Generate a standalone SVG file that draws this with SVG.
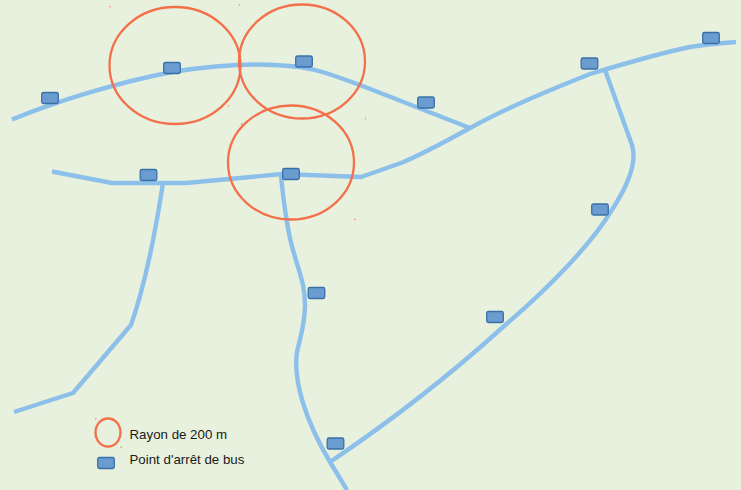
<svg xmlns="http://www.w3.org/2000/svg" width="741" height="490" viewBox="0 0 741 490">
<style>
.road{fill:none;stroke:#8cc0ea;stroke-width:4.400;stroke-linejoin:round}
.zone{fill:none;stroke:#f4704a;stroke-width:2.300}
.stop{fill:#6a9cd0;stroke:#3a70a8;stroke-width:1.300}
.speck{fill:#f59a7c}
text{font-family:"Liberation Sans",Arial,sans-serif;font-size:13.300px;fill:#1a1a1a}
</style>
<defs><rect id="s" x="-8.300" y="-5.500" width="16.600" height="11" rx="1.800" class="stop"/></defs>
<rect width="741" height="490" fill="#e7f1dd"/>
<g id="connectors">
<path class="road" d="M12 119.500C60 100 120 82 172 72C215 65 260 62 300 67C320 70 335 76 360 85L470 128"/>
<path class="road" d="M52 171.500L112 183H186L282 174L361 177L401 163C425 153 450 139 470 128C510 106 555 88 590 74C630 62 665 52 690 47C710 44 725 43 736 42"/>
<path class="road" d="M163 183C155 235 145 285 131 325L73 393L14 412"/>
<path class="road" d="M281 176C284 205 287 230 293 250C300 275 305 285 305 305C305 325 300 338 297 352C293 380 305 420 330 462L347 490"/>
<path class="road" d="M605 70L632 145C638 165 625 190 610 213C590 245 550 287 503 327C450 375 385 425 330 462"/>
</g>
<g id="zone-1"><ellipse class="zone" cx="175" cy="65.500" rx="65.500" ry="58.500"/></g>
<g id="zone-2"><ellipse class="zone" cx="302" cy="61.500" rx="63" ry="57"/></g>
<g id="zone-3"><ellipse class="zone" cx="291" cy="162.500" rx="63" ry="57"/></g>
<g id="stop-1"><use href="#s" x="50" y="98"/></g>
<g id="stop-2"><use href="#s" x="172" y="68"/></g>
<g id="stop-3"><use href="#s" x="304" y="61.500"/></g>
<g id="stop-4"><use href="#s" x="426" y="102.500"/></g>
<g id="stop-5"><use href="#s" x="148.500" y="175"/></g>
<g id="stop-6"><use href="#s" x="291" y="174"/></g>
<g id="stop-7"><use href="#s" x="589.500" y="63.500"/></g>
<g id="stop-8"><use href="#s" x="711" y="38"/></g>
<g id="stop-9"><use href="#s" x="600" y="209.500"/></g>
<g id="stop-10"><use href="#s" x="495" y="317"/></g>
<g id="stop-11"><use href="#s" x="316.500" y="293"/></g>
<g id="stop-12"><use href="#s" x="335.500" y="443.500"/></g>
<g id="specks">
<rect class="speck" x="109.500" y="6" width="1.500" height="1.500"/>
<rect class="speck" x="238.800" y="4" width="1" height="1.800"/>
<rect class="speck" x="228" y="105" width="1.500" height="1.500"/>
<rect class="speck" x="241" y="123" width="1" height="2"/>
<rect class="speck" x="365" y="117.500" width="1" height="2"/>
<rect class="speck" x="354" y="218.500" width="1.500" height="1.800"/>
<rect class="speck" x="95" y="418" width="1.500" height="1.500"/>
<rect class="speck" x="120.500" y="446.500" width="1.500" height="1.500"/>
</g>
<g id="legend-zone"><ellipse class="zone" cx="108" cy="432.500" rx="12.500" ry="14"/><text x="129.500" y="438.500">Rayon de 200 m</text></g>
<g id="legend-stop"><use href="#s" x="106" y="463"/><text x="129.500" y="464">Point d'arrêt de bus</text></g>
</svg>
